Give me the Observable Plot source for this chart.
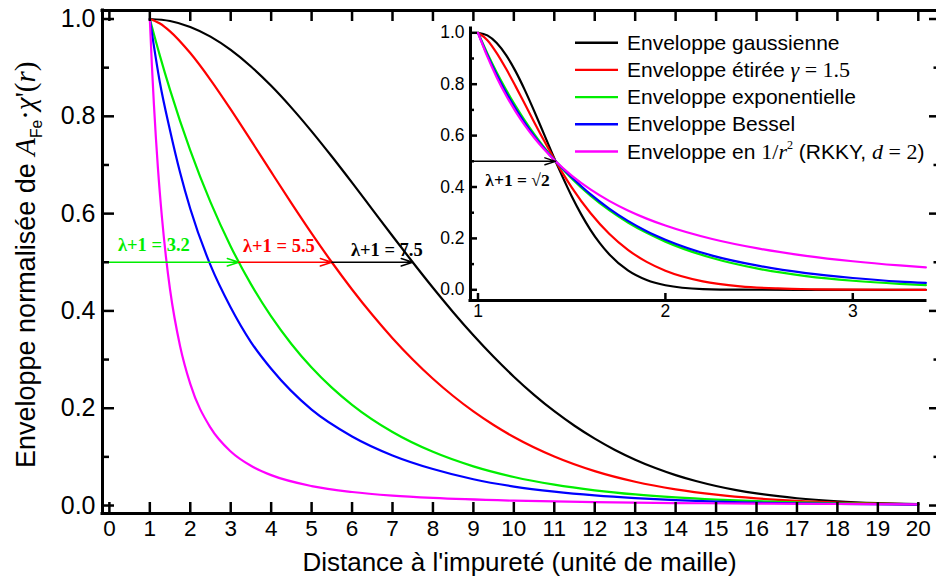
<!DOCTYPE html>
<html><head><meta charset="utf-8">
<script src="https://cdn.jsdelivr.net/npm/d3@7"></script>
<script src="https://cdn.jsdelivr.net/npm/@observablehq/plot@0.6"></script>
<style>
html,body{margin:0;padding:0;background:#fff;}
#chart{position:relative;width:936px;height:581px;overflow:hidden;background:#fff;}
#chart svg{position:absolute;left:0;top:0;}
</style></head><body><div id="chart"></div>
<script>
const SANS = "'Liberation Sans', Arial, Helvetica, sans-serif";
const SERIF = "'Liberation Serif', 'Times New Roman', serif";

// ---------- series ----------
const seriesColors = ["#000000", "#ff0000", "#00ee00", "#0000ff", "#ff00ff"];

// main plot: distance r (lattice units) and normalised envelope
const gaussR = [1,1.5,2,2.5,3,3.5,4,4.5,5,5.5,6,6.5,7,7.5,8,8.5,9,9.5,10,10.5,11,11.5,12,12.5,13,13.5,14,14.5,15,15.5,16,17,18,19,20];
const gaussV = [1,0.9959,0.9837,0.9638,0.9365,0.9025,0.8627,0.8179,0.7691,0.7173,0.6636,0.6088,0.5540,0.5000,0.4476,0.3974,0.3499,0.3056,0.2648,0.2275,0.1938,0.1639,0.1374,0.1142,0.0942,0.0770,0.0625,0.0503,0.0401,0.0318,0.0249,0.0150,0.0087,0.0049,0.0027];

const redR = [1,1.25,1.5,2,2.5,3,3.5,4,4.5,5,5.5,6,6.5,7,7.5,8,8.5,9,9.5,10,11,12,13,14,15,16,17,18,19,20];
const redV = [1,0.9909,0.9747,0.9300,0.8751,0.8143,0.7505,0.6857,0.6216,0.5594,0.5000,0.4441,0.3920,0.3440,0.3002,0.2606,0.2251,0.1934,0.1654,0.1408,0.1007,0.0707,0.0489,0.0333,0.0223,0.0147,0.0096,0.0062,0.0039,0.0025];

const greenR = [1,1.25,1.5,2,2.5,3,3.5,4,4.5,5,5.5,6,7,8,9,10,11,12,13,14,15,16,17,18,19,20];
const greenV = [1,0.9243,0.8543,0.7298,0.6235,0.5326,0.4550,0.3887,0.3321,0.2837,0.2423,0.2070,0.1511,0.1103,0.0805,0.0587,0.0429,0.0313,0.0228,0.0167,0.0122,0.0089,0.0065,0.0047,0.0034,0.0025];

const blueR = [1,1.25,1.5,1.75,2,2.5,3,3.5,4,5,6,7,8,9,10,11,12,13,14,15,16,17,18,20];
const blueV = [1,0.869,0.771,0.684,0.610,0.494,0.407,0.336,0.281,0.197,0.142,0.103,0.075,0.054,0.039,0.0285,0.0208,0.0152,0.0111,0.0081,0.0059,0.0043,0.0032,0.0017];

const magR = [1,1.05,1.1,1.15,1.2,1.3,1.4,1.5,1.75,2,2.5,3,3.5,4,5,6,7,8,10,12,14,16,18,20];
const magV = [1,0.907,0.826,0.756,0.694,0.592,0.510,0.444,0.327,0.250,0.160,0.111,0.0816,0.0625,0.040,0.0278,0.0204,0.0156,0.010,0.0069,0.0051,0.0039,0.0031,0.0025];

// inset: same envelopes rescaled so that lambda+1 = sqrt(2)
const inGaussR = [1,1.05,1.1,1.15,1.2,1.25,1.3,1.35,1.414,1.45,1.5,1.55,1.6,1.65,1.7,1.8,1.9,2.0,2.2,2.4,2.7,3.0,3.39];
const inGaussV = [1,0.990,0.9604,0.9131,0.8508,0.7769,0.6952,0.6096,0.5,0.4413,0.3642,0.2946,0.2335,0.1814,0.1381,0.0753,0.0379,0.0176,0.0030,0.0004,0,0,0];

const inRedR = [1,1.05,1.1,1.15,1.2,1.25,1.3,1.35,1.414,1.45,1.5,1.6,1.7,1.8,1.9,2.0,2.2,2.4,2.6,2.8,3.0,3.39];
const inRedV = [1,0.9713,0.9211,0.8598,0.7925,0.7225,0.6523,0.5837,0.5,0.4562,0.3988,0.2987,0.2181,0.1556,0.1086,0.0743,0.0328,0.0135,0.0052,0.0019,0.0006,0.0001];

const inR = [1,1.05,1.1,1.15,1.2,1.25,1.3,1.35,1.414,1.5,1.6,1.7,1.8,1.9,2.0,2.25,2.5,2.75,3.0,3.25,3.39];
const inGreenV = [1,0.9198,0.8459,0.7781,0.7154,0.6580,0.6052,0.5566,0.5,0.4332,0.3663,0.3098,0.2620,0.2216,0.1875,0.1235,0.0812,0.0534,0.0352,0.0232,0.0183];
const inBlueV = [1,0.913,0.836,0.767,0.705,0.649,0.598,0.553,0.5,0.438,0.372,0.316,0.268,0.228,0.195,0.133,0.093,0.065,0.046,0.032,0.027];
const inMagV = [1,0.907,0.8264,0.7561,0.6944,0.64,0.5917,0.5487,0.5,0.4444,0.3906,0.3460,0.3086,0.2770,0.25,0.1975,0.16,0.1322,0.1111,0.0947,0.0870];

// ---------- ticks ----------
const xTicks = [0,1,2,3,4,5,6,7,8,9,10,11,12,13,14,15,16,17,18,19,20];
const yMajor = [0,0.2,0.4,0.6,0.8,1.0];
const yMinor = [0.1,0.3,0.5,0.7,0.9];
const inXTicks = [1,2,3];
const xTitle = "Distance à l'impureté (unité de maille)";

// ---------- annotations ----------
const halfLevel = 0.5;
const annStops = [3.2, 5.5, 7.5];
const annTexts = ["λ+1 = 3.2", "λ+1 = 5.5", "λ+1 = 7.5"];
const annColors = ["#00ee00", "#ff0000", "#000000"];
const annTextX = [1.10, 4.19, 6.86];
const annTextY = [0.535, 0.533, 0.526];
const inAnnStop = 1.414;
const inAnnText = "λ+1 = √2";
const inAnnTextX = 1.211, inAnnTextY = 0.424;

// legend (rich text segments: [text, font, italic, superscript])
const legendRows = [
  [["Enveloppe gaussienne","s"]],
  [["Enveloppe étirée ","s"],["γ","r",true],[" = 1.5","r"]],
  [["Enveloppe exponentielle","s"]],
  [["Enveloppe Bessel","s"]],
  [["Enveloppe en ","s"],["1/","r"],["r","r",true],["2","r",false,true],[" (RKKY, ","s"],["d","r",true],[" = 2","r"],[")","s"]]
];
const yTitleParts = [["Enveloppe normalisée de ","s"],["A","r",true],["Fe","s",false,false,true],["·","r"],["χ","r",true],["'(","r"],["r","r",true],[")","r"]];

// ---------- helpers ----------
const rows = (rs, vs) => rs.map((r, i) => ({r, v: vs[i]}));
const W = 936, H = 581;

// ---------- main plot ----------
const mX = [-0.17, 20.45], mY = [-0.0164, 1.0175];
const mM = {left: 102, right: 0, top: 10, bottom: 68};
const mPW = W - mM.left - mM.right, mPH = H - mM.top - mM.bottom;
const mainSeries = [[gaussR, gaussV], [redR, redV], [greenR, greenV], [blueR, blueV], [magR, magV]];

const main = Plot.plot({
  width: W, height: H,
  marginLeft: mM.left, marginRight: mM.right, marginTop: mM.top, marginBottom: mM.bottom,
  x: {domain: mX, axis: null},
  y: {domain: mY, axis: null},
  style: {background: "white", fontFamily: SANS, overflow: "visible"},
  marks: [
    ...mainSeries.map(([rs, vs], i) => Plot.line(rows(rs, vs), {x: "r", y: "v", stroke: seriesColors[i], strokeWidth: 2.2, curve: "monotone-x"})),
    Plot.arrow(annStops.map((s, i) => ({a: i === 0 ? mX[0] : annStops[i - 1], b: s, c: annColors[i]})),
      {x1: "a", x2: "b", y1: () => halfLevel, y2: () => halfLevel, stroke: "c", strokeWidth: 1.4, headLength: 13, headAngle: 36}),
    Plot.text(annTexts.map((t, i) => ({t, x: annTextX[i], y: annTextY[i], c: annColors[i]})),
      {x: "x", y: "y", text: "t", fill: "c", fontFamily: SERIF, fontWeight: "bold", fontSize: 18.5}),
    Plot.ruleX([mX[0]], {stroke: "black", strokeWidth: 3, strokeLinecap: "square"}),
    Plot.ruleY([mY[0]], {stroke: "black", strokeWidth: 3, strokeLinecap: "square"}),
    Plot.ruleY([mY[1]], {stroke: "black", strokeWidth: 3, strokeLinecap: "square"}),
    Plot.tickX(xTicks, {x: d => d, insetTop: mPH - 11, stroke: "black", strokeWidth: 2.5}),
    Plot.tickX(xTicks, {x: d => d, insetBottom: mPH - 11, stroke: "black", strokeWidth: 2.5}),
    Plot.tickY(yMajor, {y: d => d, insetRight: mPW - 12, stroke: "black", strokeWidth: 2.5}),
    Plot.tickY(yMinor, {y: d => d, insetRight: mPW - 7, stroke: "black", strokeWidth: 2.5}),
    Plot.tickY(yMajor, {y: d => d, insetLeft: mPW - 7, stroke: "black", strokeWidth: 2.5}),
    Plot.tickY(yMinor, {y: d => d, insetLeft: mPW - 2.5, stroke: "black", strokeWidth: 2.5}),
    Plot.text(xTicks, {x: d => d, frameAnchor: "bottom", dy: 22, text: d => String(d), fontSize: 22.5, fill: "black"}),
    Plot.text(yMajor, {y: d => d, frameAnchor: "left", dx: -7, textAnchor: "end", text: d => d.toFixed(1), fontSize: 25, fill: "black"}),
    Plot.text([xTitle], {frameAnchor: "bottom", dy: 57, text: d => d, fontSize: 26, fill: "black"})
  ]
});

// rich text helper
function richText(sel, parts, sansSize, serifSize) {
  let shift = 0;
  for (const [txt, fam, ital, sup, sub] of parts) {
    const ts = sel.append("tspan").text(txt)
      .attr("font-family", fam === "s" ? SANS : SERIF)
      .attr("font-size", fam === "s" ? sansSize : serifSize);
    if (ital) ts.attr("font-style", "italic");
    let target = 0;
    if (sup) { target = -0.45 * serifSize; ts.attr("font-size", serifSize * 0.55); }
    if (sub) { target = 0.25 * sansSize; ts.attr("font-size", sansSize * 0.58); }
    if (target !== shift) { ts.attr("dy", target - shift); shift = target; }
  }
}
const ms = d3.select(main);
const yt = ms.append("text").attr("transform", "translate(35,468) rotate(-90)")
  .attr("fill", "black").attr("text-anchor", "start");
richText(yt, yTitleParts, 27, 29);

// ---------- inset ----------
const iX = [0.96, 3.388], iY = [-0.0416, 1.0167];
const iM = {left: 470, right: 11, top: 28, bottom: 281};
const iPW = W - iM.left - iM.right, iPH = H - iM.top - iM.bottom;
const insetSeries = [[inGaussR, inGaussV], [inRedR, inRedV], [inR, inGreenV], [inR, inBlueV], [inR, inMagV]];

const inset = Plot.plot({
  width: W, height: H,
  marginLeft: iM.left, marginRight: iM.right, marginTop: iM.top, marginBottom: iM.bottom,
  x: {domain: iX, axis: null},
  y: {domain: iY, axis: null},
  style: {background: "transparent", fontFamily: SANS, overflow: "visible"},
  marks: [
    ...insetSeries.map(([rs, vs], i) => Plot.line(rows(rs, vs), {x: "r", y: "v", stroke: seriesColors[i], strokeWidth: 2.2, curve: "monotone-x"})),
    Plot.arrow([{a: iX[0], b: inAnnStop}], {x1: "a", x2: "b", y1: () => halfLevel, y2: () => halfLevel, stroke: "black", strokeWidth: 1.4, headLength: 12, headAngle: 36}),
    Plot.text([inAnnText], {x: () => inAnnTextX, y: () => inAnnTextY, text: d => d, fill: "black", fontFamily: SERIF, fontWeight: "bold", fontSize: 17.5}),
    Plot.ruleX([iX[0]], {stroke: "black", strokeWidth: 3, strokeLinecap: "square"}),
    Plot.ruleY([iY[0]], {stroke: "black", strokeWidth: 3, strokeLinecap: "square"}),
    Plot.tickY(yMajor, {y: d => d, insetRight: iPW - 7, stroke: "black", strokeWidth: 2.5}),
    Plot.tickY(yMinor, {y: d => d, insetRight: iPW - 4, stroke: "black", strokeWidth: 2.5}),
    Plot.tickX(inXTicks, {x: d => d, insetTop: iPH - 7, stroke: "black", strokeWidth: 2.5}),
    Plot.text(yMajor, {y: d => d, frameAnchor: "left", dx: -6, textAnchor: "end", text: d => d.toFixed(1), fontSize: 17.5, fill: "black"}),
    Plot.text(inXTicks, {x: d => d, frameAnchor: "bottom", dy: 16, text: d => String(d), fontSize: 17.5, fill: "black"})
  ]
});

// legend
const is = d3.select(inset);
const lg = is.append("g");
legendRows.forEach((parts, i) => {
  const yc = 42.7 + i * 27.2;
  lg.append("line").attr("x1", 575).attr("x2", 618).attr("y1", yc).attr("y2", yc)
    .attr("stroke", seriesColors[i]).attr("stroke-width", 2.4);
  const t = lg.append("text").attr("x", 627).attr("y", yc + 7)
    .attr("fill", "black").attr("text-anchor", "start");
  richText(t, parts, 21, 22);
});

const chart = document.getElementById("chart");
chart.appendChild(main);
chart.appendChild(inset);
</script></body></html>
